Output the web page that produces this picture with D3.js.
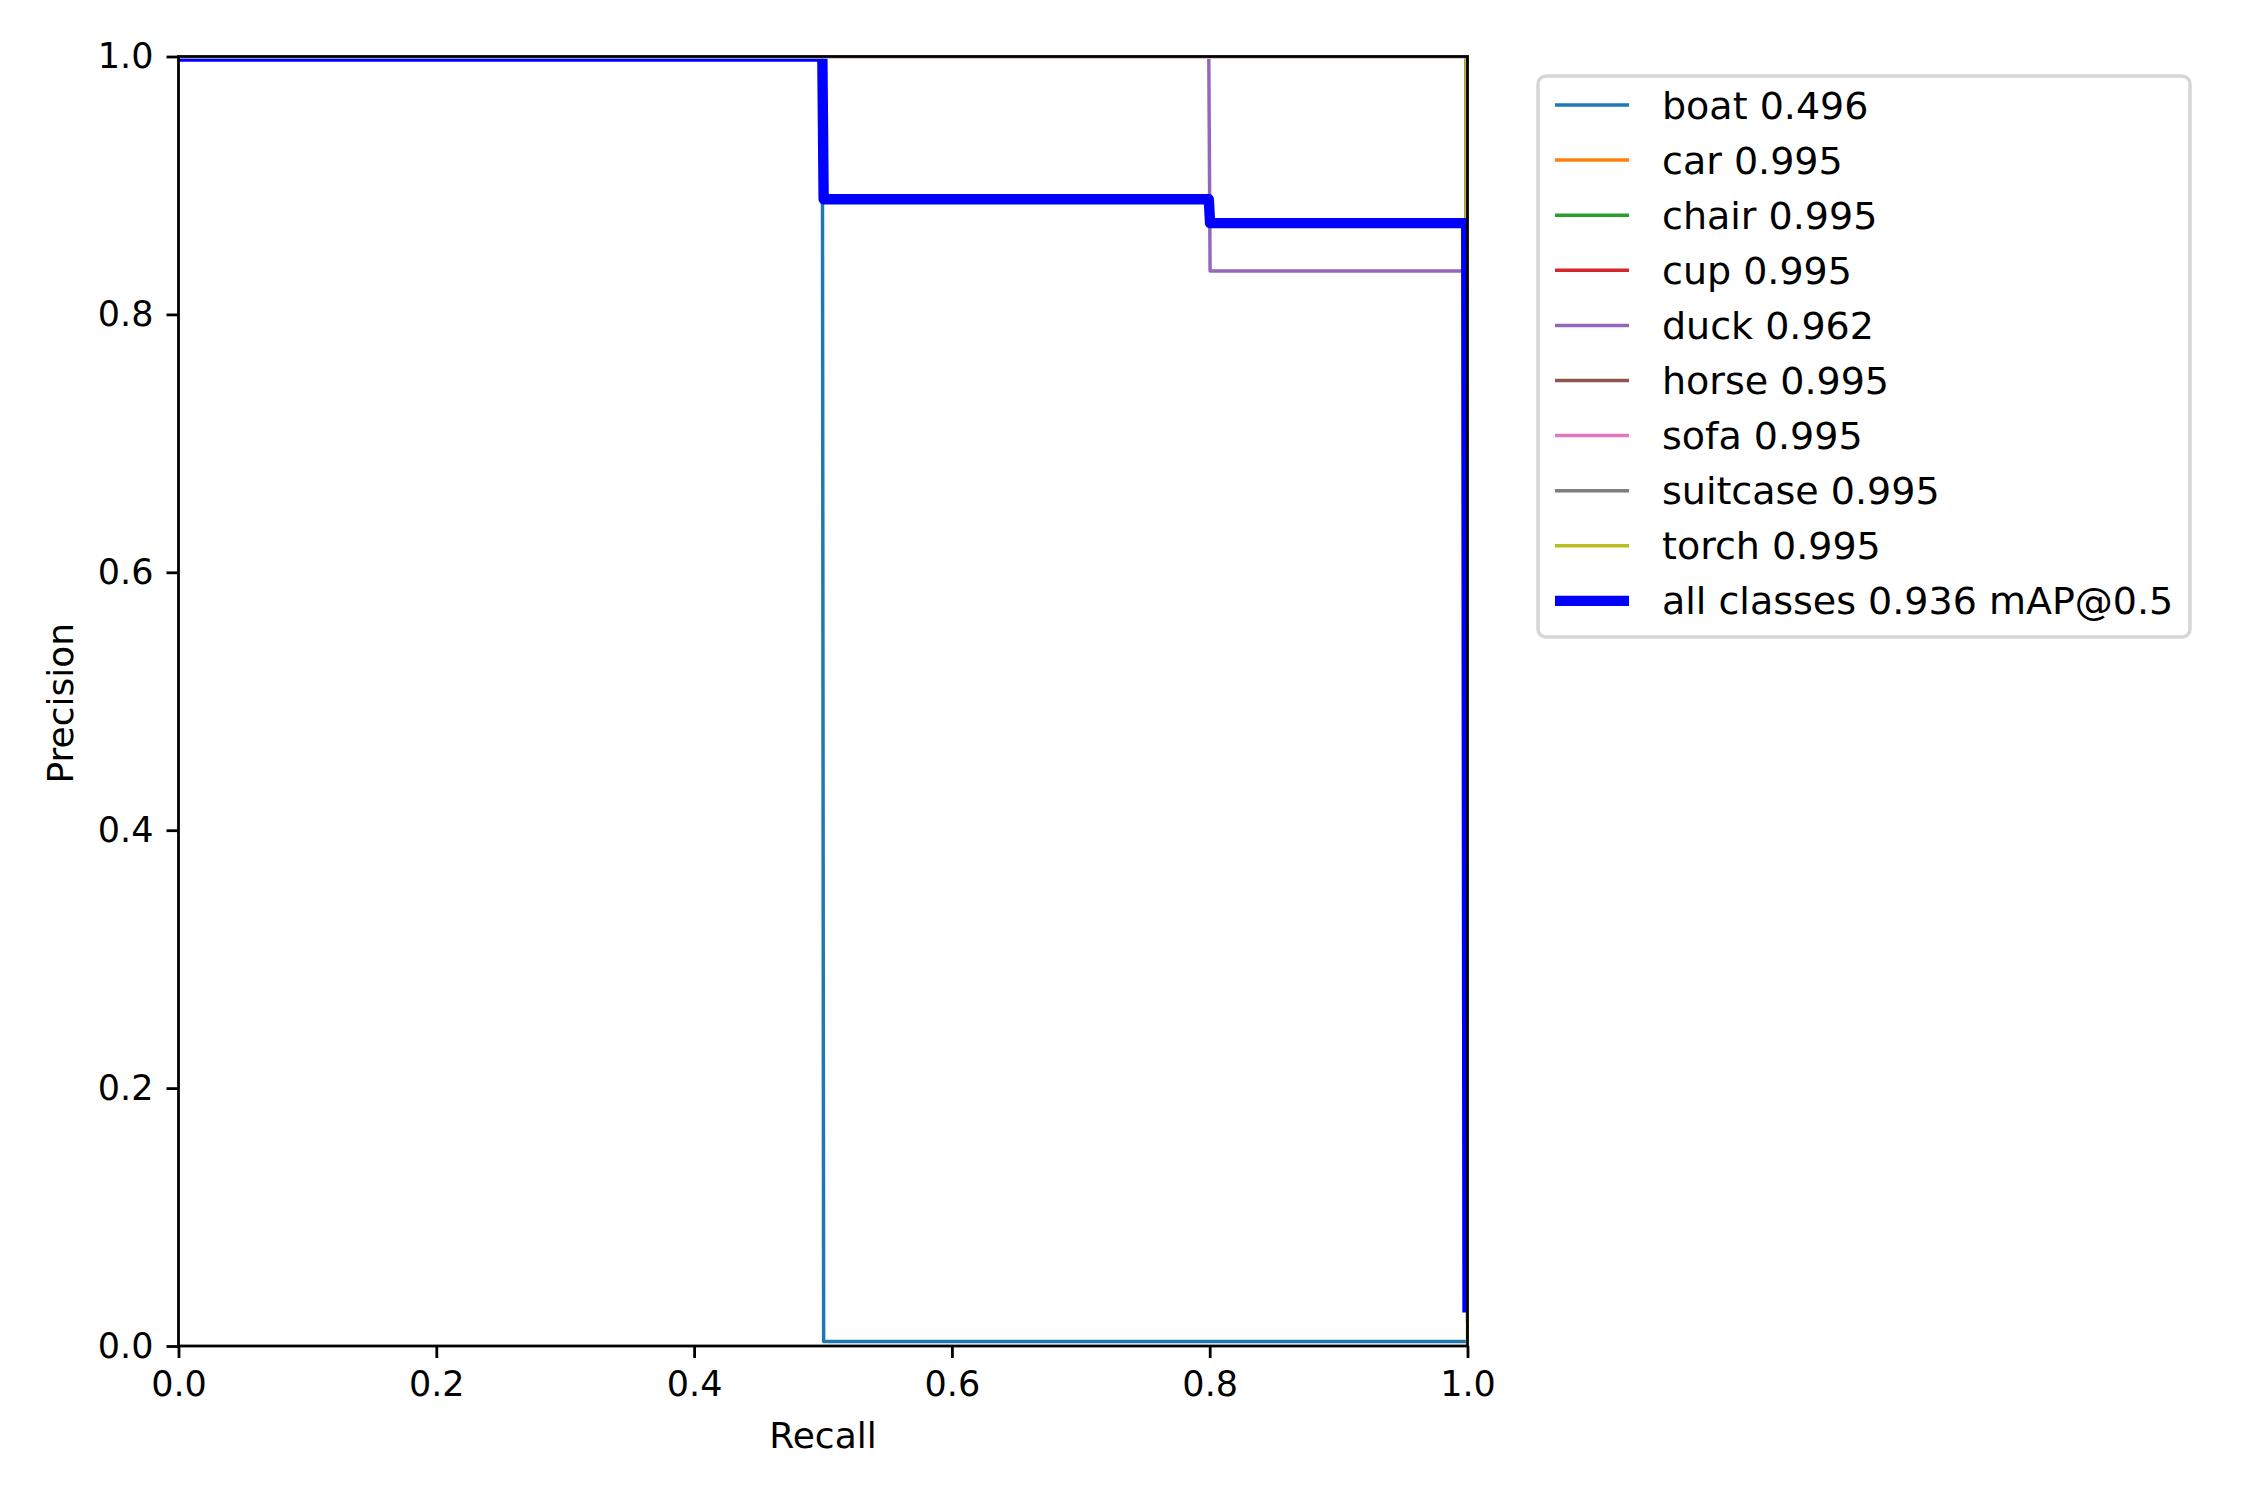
<!DOCTYPE html>
<html>
<head>
<meta charset="utf-8">
<script src="https://cdn.jsdelivr.net/npm/d3@7"></script>
<style>
  html, body { margin: 0; padding: 0; background: #ffffff; }
  svg { display: block; font-family: "DejaVu Sans", sans-serif; }
</style>
</head>
<body>
<svg id="chart" width="2250" height="1500"></svg>
<script>
// ---------------- data ----------------
const classNames = ["boat", "car", "chair", "cup", "duck", "horse", "sofa", "suitcase", "torch"];
const classAP    = [0.496, 0.995, 0.995, 0.995, 0.962, 0.995, 0.995, 0.995, 0.995];

const boatRecall        = [0, 0.4995, 0.5005, 1.0];
const boatPrecision     = [1, 1, 0.0035, 0.0035];
const carRecall         = [0, 0.999, 1.0];
const carPrecision      = [1, 1, 0.05];
const chairRecall       = [0, 0.999, 1.0];
const chairPrecision    = [1, 1, 0.04];
const cupRecall         = [0, 0.999, 1.0];
const cupPrecision      = [1, 1, 0.03];
const duckRecall        = [0, 0.7993, 0.8003, 0.999, 1.0];
const duckPrecision     = [1, 1, 0.8336, 0.8336, 0.02];
const horseRecall       = [0, 0.999, 1.0];
const horsePrecision    = [1, 1, 0.05];
const sofaRecall        = [0, 0.999, 1.0];
const sofaPrecision     = [1, 1, 0.04];
const suitcaseRecall    = [0, 0.999, 1.0];
const suitcasePrecision = [1, 1, 0.04];
const torchRecall       = [0, 0.999, 1.0];
const torchPrecision    = [1, 1, 0.003];

const allRecall    = [0, 0.4995, 0.5005, 0.7993, 0.8003, 0.999, 1.0];
const allPrecision = [1, 1, 0.8893, 0.8893, 0.8708, 0.8708, 0.03];
const allLabel = "all classes 0.936 mAP@0.5";

const xTicks = [0, 0.2, 0.4, 0.6, 0.8, 1.0];
const yTicks = [0, 0.2, 0.4, 0.6, 0.8, 1.0];
const xLabel = "Recall";
const yLabel = "Precision";

// ---------------- styles ----------------
const classColors = ["#1f77b4", "#ff7f0e", "#2ca02c", "#d62728", "#9467bd",
                     "#8c564b", "#e377c2", "#7f7f7f", "#bcbd22"];
const allColor = "#0000ff";

const curves = [
  [boatRecall, boatPrecision], [carRecall, carPrecision], [chairRecall, chairPrecision],
  [cupRecall, cupPrecision], [duckRecall, duckPrecision], [horseRecall, horsePrecision],
  [sofaRecall, sofaPrecision], [suitcaseRecall, suitcasePrecision], [torchRecall, torchPrecision]
];

// ---------------- layout ----------------
const X0 = 178.5, X1 = 1467.5, Y0 = 56.5, Y1 = 1346;
const svg = d3.select("#chart");
const x = d3.scaleLinear().domain([0, 1]).range([X0, X1]);
const y = d3.scaleLinear().domain([0, 1]).range([Y1, Y0]);

svg.append("defs").append("clipPath").attr("id", "plotclip")
  .append("rect").attr("x", X0).attr("y", Y0 + 2.2).attr("width", X1 - X0).attr("height", Y1 - Y0 - 2.2);

const line = d3.line().x(d => x(d[0])).y(d => y(d[1]));
const plot = svg.append("g").attr("clip-path", "url(#plotclip)");

curves.forEach((c, i) => {
  const pts = c[0].map((r, k) => [r, c[1][k]]);
  plot.append("path").datum(pts)
    .attr("d", line)
    .attr("fill", "none")
    .attr("stroke", classColors[i])
    .attr("stroke-width", 3.47)
    .attr("stroke-linejoin", "round")
    .attr("stroke-linecap", "square");
});

const allPts = allRecall.map((r, k) => [r, allPrecision[k]]);
plot.append("path").datum(allPts)
  .attr("d", line)
  .attr("fill", "none")
  .attr("stroke", allColor)
  .attr("stroke-width", 10.4)
  .attr("stroke-linejoin", "round")
  .attr("stroke-linecap", "square");

// axes
const fmt = d3.format(".1f");
const gx = svg.append("g").attr("transform", `translate(0,${Y1})`)
  .call(d3.axisBottom(x).tickValues(xTicks).tickFormat(fmt).tickSize(12).tickPadding(13));
const gy = svg.append("g").attr("transform", `translate(${X0},0)`)
  .call(d3.axisLeft(y).tickValues(yTicks).tickFormat(fmt).tickSize(12).tickPadding(13));
[gx, gy].forEach(g => {
  g.select(".domain").remove();
  g.selectAll(".tick line").attr("stroke", "#000").attr("stroke-width", 2.8);
  g.selectAll(".tick text").attr("fill", "#000").style("font-size", "35px")
    .style("font-family", "'DejaVu Sans', sans-serif");
});

// spines
svg.append("rect").attr("x", X0).attr("y", Y0).attr("width", X1 - X0).attr("height", Y1 - Y0)
  .attr("fill", "none").attr("stroke", "#000").attr("stroke-width", 2.8);

// axis labels
svg.append("text").attr("x", (X0 + X1) / 2).attr("y", 1447.5)
  .attr("text-anchor", "middle").style("font-size", "36px").text(xLabel);
svg.append("text").attr("transform", `translate(72.5,${(Y0 + Y1) / 2 + 2}) rotate(-90)`)
  .attr("text-anchor", "middle").style("font-size", "36px").text(yLabel);

// legend
const LX0 = 1538, LX1 = 2190, LY0 = 76, LY1 = 637;
const leg = svg.append("g");
leg.append("rect").attr("x", LX0).attr("y", LY0).attr("width", LX1 - LX0).attr("height", LY1 - LY0)
  .attr("rx", 8).attr("ry", 8)
  .attr("fill", "#ffffff").attr("fill-opacity", 0.8)
  .attr("stroke", "#d6d6d6").attr("stroke-width", 3.47);

const legItems = classNames.map((n, i) => ({
  label: `${n} ${classAP[i].toFixed(3)}`, color: classColors[i], w: 3.47
}));
legItems.push({ label: allLabel, color: allColor, w: 10.4 });

const rowY0 = 105, rowStep = 55.1;
legItems.forEach((it, i) => {
  const yy = rowY0 + i * rowStep;
  leg.append("line").attr("x1", 1555).attr("x2", 1629).attr("y1", yy).attr("y2", yy)
    .attr("stroke", it.color).attr("stroke-width", it.w).attr("stroke-linecap", "butt");
  leg.append("text").attr("x", 1662).attr("y", yy + 13.5)
    .style("font-size", "38px").attr("fill", "#000").text(it.label);
});
</script>
</body>
</html>
